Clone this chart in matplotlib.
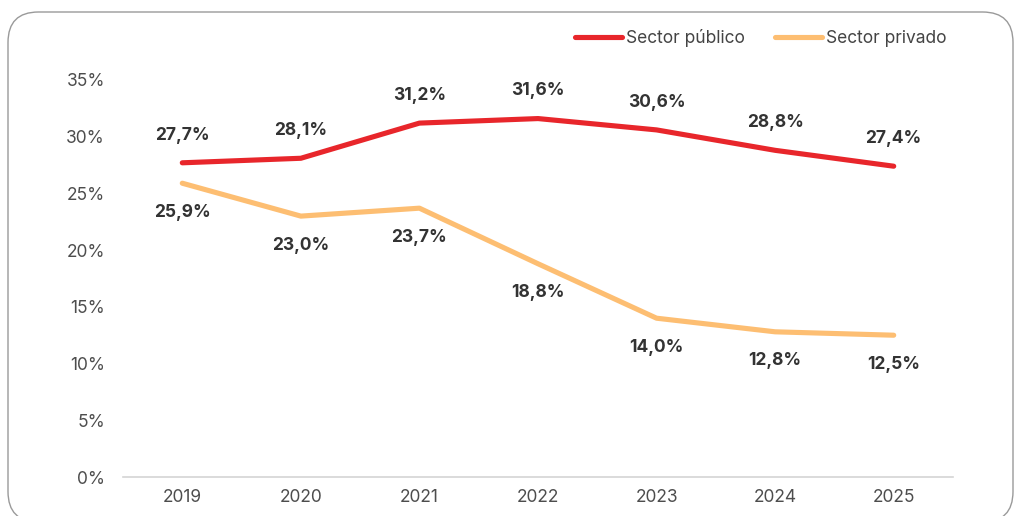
import matplotlib
matplotlib.use("Agg")
import matplotlib.pyplot as plt
from matplotlib.patches import FancyBboxPatch
from matplotlib.lines import Line2D

plt.rcParams['font.family'] = ['Inter', 'DejaVu Sans']

years = ["2019", "2020", "2021", "2022", "2023", "2024", "2025"]
publico = [27.7, 28.1, 31.2, 31.6, 30.6, 28.8, 27.4]
privado = [25.9, 23.0, 23.7, 18.8, 14.0, 12.8, 12.5]
yticks = [0, 5, 10, 15, 20, 25, 30, 35]

RED = "#E8262B"
ORANGE = "#FDBE72"
TEXT_DARK = "#333333"
TEXT_TICK = "#4d4d4d"

fig = plt.figure(figsize=(10.15, 5.16), dpi=100)
fig.patch.set_facecolor("white")

# rounded frame around the chart
frame = FancyBboxPatch((8 / 1015, -6 / 516), 1005 / 1015, 510 / 516,
                       boxstyle="round,pad=0,rounding_size=0.03",
                       transform=fig.transFigure, facecolor="none",
                       edgecolor="#9a9a9a", linewidth=1.0,
                       mutation_aspect=1015 / 516)
fig.patches.append(frame)

ax = fig.add_axes([123 / 1015, 39 / 516, 830 / 1015, 397 / 516])
x = list(range(len(years)))

ax.plot(x, publico, color=RED, lw=3.7, solid_capstyle="round", solid_joinstyle="round")
ax.plot(x, privado, color=ORANGE, lw=3.7, solid_capstyle="round", solid_joinstyle="round")

for xi, v in zip(x, publico):
    ax.annotate(f"{v:.1f}%".replace(".", ","), (xi, v), xytext=(0, 20),
                textcoords="offset points", ha="center", va="center",
                fontsize=12.5, fontweight="bold", color=TEXT_DARK)
for xi, v in zip(x, privado):
    ax.annotate(f"{v:.1f}%".replace(".", ","), (xi, v), xytext=(0, -21),
                textcoords="offset points", ha="center", va="center",
                fontsize=12.5, fontweight="bold", color=TEXT_DARK)

ax.set_xlim(-0.5, len(years) - 0.5)
ax.set_ylim(0, 35)
ax.set_xticks(x)
ax.set_xticklabels(years)
ax.set_yticks(yticks)
ax.set_yticklabels([f"{t}%" for t in yticks])
ax.tick_params(axis="both", length=0, labelsize=12.5, colors=TEXT_TICK)
ax.tick_params(axis="y", pad=13)
ax.tick_params(axis="x", pad=9)
for s in ["top", "right", "left"]:
    ax.spines[s].set_visible(False)
ax.spines["bottom"].set_color("#d4d4d4")
ax.spines["bottom"].set_linewidth(1.2)
ax.set_facecolor("none")

handles = [Line2D([0], [0], color=RED, lw=3.7, solid_capstyle="round"),
           Line2D([0], [0], color=ORANGE, lw=3.7, solid_capstyle="round")]
fig.legend(handles, ["Sector público", "Sector privado"], loc="center right",
           bbox_to_anchor=(962 / 1015, 1 - 38 / 516), ncol=2, frameon=False,
           fontsize=12.5, handlelength=2.7, handletextpad=0.25, columnspacing=1.7,
           labelcolor="#444444")

fig.savefig("out.png", dpi=100, facecolor="white")
